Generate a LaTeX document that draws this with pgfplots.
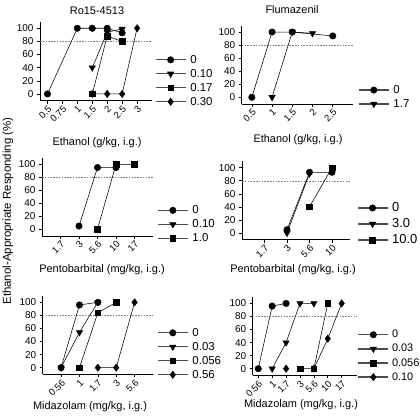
\documentclass[border=0pt]{standalone}
\usepackage{fontspec}
\setmainfont{Liberation Sans}
\usepackage{pgfplots}
\pgfplotsset{compat=1.18}
\pgfplotsset{
  panel/.style={
    scale only axis,
    axis lines=left,
    axis line style={-, line width=0.6pt},
    tick style={line width=0.6pt, black},
    tick align=outside,
    major tick length=3bp,
    ymin=-10, ymax=110,
    ytick={0,20,...,100},
    xtick=data,
    tick label style={font=\fontsize{10}{11}\selectfont},
    xticklabel style={rotate=45, anchor=north east, inner sep=1bp, font=\fontsize{9.5}{10}\selectfont},
    /pgf/number format/assume math mode=true,
    every axis plot/.append style={line width=0.55pt, black, mark options={solid, fill=black}},
    legend cell align=left,
    legend style={draw=none, fill=none, inner sep=0pt, row sep=0.5bp, column sep=2bp,
      font=\fontsize{11.5}{12}\selectfont, anchor=west},
    legend image code/.code={
      \draw[#1, draw=gray!60!black, line width=1.3pt, mark=none] (0bp,0bp)--(30bp,0bp);
      \draw[#1, only marks] plot coordinates {(15bp,0bp)};},
    clip=false,
  },
  cir/.style={mark=*, mark size=3.2bp},
  tri/.style={mark=triangle*, mark size=3.6bp, mark options={rotate=180}},
  squ/.style={mark=square*, mark size=2.8bp},
  dia/.style={mark=diamond*, mark size=3.6bp},
  ref80/.style={forget plot, gray, line width=0.5pt, dash pattern=on 1.6bp off 1.2bp, mark=none},
}
\begin{document}
\begin{tikzpicture}
\useasboundingbox (0,0) rectangle (420bp,-416bp);
% Panel 1: Ro15-4513
\begin{axis}[panel, at={(40bp,-100.5bp)}, anchor=south west, width=112bp, height=78.8bp,
  xmin=-0.5, xmax=7, xtick={0,...,6}, xticklabels={0.5,0.75,1,1.5,2,2.5,3},
  legend style={at={(1.025,0.25)}}]
\addplot[ref80] coordinates {(-0.5,80) (7,80)};
\addplot[cir] coordinates {(0,0) (2,100) (3,100) (4,100) (5,93)};
\addplot[tri] coordinates {(3,40) (4,94) (5,99)};
\addplot[squ] coordinates {(3,0) (4,88) (5,80)};
\addplot[dia] coordinates {(3,0) (4,0) (5,0) (6,100)};
\legend{0,0.10,0.17,0.30}
\end{axis}
% Panel 2: Flumazenil
\begin{axis}[panel, at={(241.7bp,-103.8bp)}, anchor=south west, width=111.3bp, height=78.3bp,
  xmin=-0.5, xmax=5, xtick={0,...,4}, xticklabels={0.5,1,1.5,2,2.5},
  legend style={at={(1.045,0.087)}}]
\addplot[ref80] coordinates {(-0.5,80) (5,80)};
\addplot[cir] coordinates {(0,0) (1,100) (2,100) (4,94)};
\addplot[tri] coordinates {(1,0) (2,100) (3,98)};
\legend{0,1.7}
\end{axis}
% Panel 3: Pentobarbital (left)
\begin{axis}[panel, at={(42bp,-235.8bp)}, anchor=south west, width=111bp, height=78bp,
  xmin=-1, xmax=5, xtick={0,...,4}, xticklabels={1.7,3,5.6,10,17},
  legend style={at={(1.036,0.147)}}]
\addplot[ref80] coordinates {(-1,80) (5,80)};
\addplot[cir] coordinates {(1,5) (2,95) (3,95)};
\addlegendimage{tri}
\addplot[squ] coordinates {(2,0) (3,100) (4,100)};
\legend{0,0.10,1.0}
\end{axis}
% Panel 4: Pentobarbital (right)
\begin{axis}[panel, at={(242bp,-239.5bp)}, anchor=south west, width=108bp, height=78.3bp,
  xmin=-1, xmax=3.8, xtick={0,...,3}, xticklabels={1.7,3,5.6,10},
  legend style={at={(1.062,0.198)}, font=\fontsize{13}{14}\selectfont, row sep=1.5bp}]
\addplot[ref80] coordinates {(-1,80) (3.8,80)};
\addplot[cir] coordinates {(1,5) (2,93) (3,93)};
\addplot[tri] coordinates {(1,0) (2,91)};
\addplot[squ] coordinates {(2,40) (3,100)};
\legend{0,3.0,10.0}
\end{axis}
% Panel 5: Midazolam (left)
\begin{axis}[panel, at={(42.7bp,-374.2bp)}, anchor=south west, width=110.3bp, height=78.4bp,
  xmin=-1, xmax=5, xtick={0,...,4}, xticklabels={0.56,1,1.7,3,5.6},
  legend style={at={(1.036,0.26)}}]
\addplot[ref80] coordinates {(-1,80) (5,80)};
\addplot[cir] coordinates {(0,0) (1,96) (2,100)};
\addplot[tri] coordinates {(0,0) (1,54) (2,100)};
\addplot[squ] coordinates {(1,0) (2,84) (3,100)};
\addplot[dia] coordinates {(2,0) (3,0) (4,100)};
\legend{0,0.03,0.056,0.56}
\end{axis}
% Panel 6: Midazolam (right)
\begin{axis}[panel, at={(252.7bp,-375.2bp)}, anchor=south west, width=104.3bp, height=78.3bp,
  xmin=-0.4, xmax=7.1, xtick={0,...,6}, xticklabels={0.56,1,1.7,3,5.6,10,17},
  unbounded coords=jump,
  legend style={at={(1.005,0.246)}, font=\fontsize{11}{12}\selectfont, row sep=1bp, column sep=1bp}]
\addplot[ref80] coordinates {(-0.4,80) (7.1,80)};
\addplot[cir] coordinates {(0,0) (1,96) (2,100)};
\addplot[tri] coordinates {(1,0) (2,40) (3,100) (4,100)};
\addplot[squ] coordinates {(3,0) (4,0) (5,100)};
\addplot[dia] coordinates {(2,0) (3,nan) (4,0) (5,46) (6,100)};
\legend{0,0.03,0.056,0.10}
\end{axis}
% Titles and labels
\node[font=\fontsize{11}{12}\selectfont] at (97bp,-11bp) {Ro15-4513};
\node[font=\fontsize{11}{12}\selectfont] at (292bp,-10bp) {Flumazenil};
\node[font=\fontsize{11}{12}\selectfont] at (97bp,-142.5bp) {Ethanol (g/kg, i.g.)};
\node[font=\fontsize{11}{12}\selectfont] at (298bp,-140bp) {Ethanol (g/kg, i.g.)};
\node[font=\fontsize{11}{12}\selectfont] at (102bp,-270bp) {Pentobarbital (mg/kg, i.g.)};
\node[font=\fontsize{11}{12}\selectfont] at (293bp,-270bp) {Pentobarbital (mg/kg, i.g.)};
\node[font=\fontsize{11}{12}\selectfont] at (90bp,-406.5bp) {Midazolam (mg/kg, i.g.)};
\node[font=\fontsize{11}{12}\selectfont] at (301bp,-405bp) {Midazolam (mg/kg, i.g.)};
\node[rotate=90, font=\fontsize{11.5}{12}\selectfont] at (8bp,-211bp) {Ethanol-Appropriate Responding (\%)};
\end{tikzpicture}
\end{document}
